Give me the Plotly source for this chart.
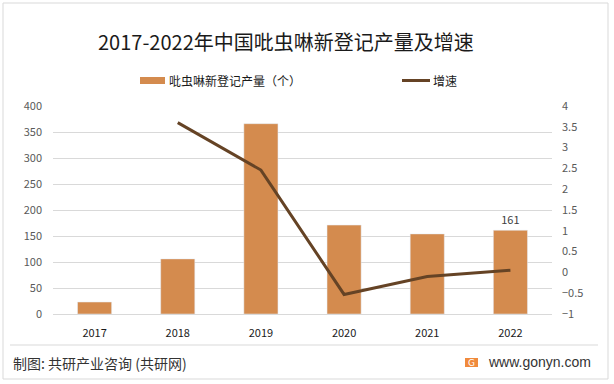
import plotly.graph_objects as go

years = ["2017", "2018", "2019", "2020", "2021", "2022"]
output = [23, 106, 366, 171, 154, 161]
growth_years = ["2018", "2019", "2020", "2021", "2022"]
growth = [3.6, 2.46, -0.53, -0.10, 0.05]
bar_labels = ["", "", "", "", "", "161"]
bar_name = "吡虫啉新登记产量（个）"
line_name = "增速"

FONT = "Noto Sans CJK SC, Microsoft YaHei, sans-serif"
BAR_C = "#d48b4e"
LINE_C = "#654325"

fig = go.Figure()
fig.add_trace(go.Bar(
    x=years, y=output, name=bar_name, marker_color=BAR_C,
    text=bar_labels, textposition="outside", cliponaxis=False,
    textfont=dict(size=11, color="#404040"),
))
fig.add_trace(go.Scatter(
    x=growth_years, y=growth, name=line_name, yaxis="y2", mode="lines",
    line=dict(color=LINE_C, width=3),
))

L, R, T, B = 53, 62, 106, 70
W, H = 614, 384
pw, ph = W - L - R, H - T - B

def px(x):
    return (x - L) / pw

def py(y):
    return (H - B - y) / ph

shapes = [
    dict(type="rect", xref="paper", yref="paper", x0=px(3), x1=px(608), y0=py(379), y1=py(3),
         line=dict(color="#d9d9d9", width=1), fillcolor="rgba(0,0,0,0)", layer="below"),
    dict(type="line", xref="paper", yref="paper", x0=px(10), x1=px(598), y0=py(345), y1=py(345),
         line=dict(color="#d9d9d9", width=1)),
    dict(type="rect", xref="paper", yref="paper", x0=px(465), x1=px(478), y0=py(367), y1=py(358),
         line=dict(width=0), fillcolor="#f08a3c"),
    # legend symbols
    dict(type="rect", xref="paper", yref="paper", x0=px(140), x1=px(165), y0=py(84), y1=py(77),
         line=dict(width=0), fillcolor=BAR_C),
    dict(type="line", xref="paper", yref="paper", x0=px(402), x1=px(430), y0=py(80.5), y1=py(80.5),
         line=dict(color=LINE_C, width=3)),
]

annotations = [
    dict(text="2017-2022年中国吡虫啉新登记产量及增速", xref="paper", yref="paper",
         x=px(286), y=py(41), showarrow=False, font=dict(size=20, color="#1a1a1a", family=FONT),
         xanchor="center", yanchor="middle"),
    dict(text=bar_name, xref="paper", yref="paper", x=px(167), y=py(80.5), showarrow=False,
         xanchor="left", yanchor="middle", font=dict(size=12, color="#1a1a1a", family=FONT)),
    dict(text=line_name, xref="paper", yref="paper", x=px(431), y=py(80.5), showarrow=False,
         xanchor="left", yanchor="middle", font=dict(size=12, color="#1a1a1a", family=FONT)),
    dict(text="制图: 共研产业咨询 (共研网)", xref="paper", yref="paper", x=px(11), y=py(363),
         showarrow=False, xanchor="left", yanchor="middle", font=dict(size=14, color="#333333", family=FONT)),
    dict(text="G", xref="paper", yref="paper", x=px(471.5), y=py(362.5), showarrow=False,
         xanchor="center", yanchor="middle", font=dict(size=9, color="white", family="DejaVu Sans")),
    dict(text="www.gonyn.com", xref="paper", yref="paper", x=px(486), y=py(362), showarrow=False,
         xanchor="left", yanchor="middle", font=dict(size=14, color="#333333", family="Liberation Sans, Arial")),
]

fig.update_layout(
    width=W, height=H, margin=dict(l=L, r=R, t=T, b=B, autoexpand=False),
    paper_bgcolor="white", plot_bgcolor="white",
    font=dict(family=FONT, size=11, color="#595959"),
    bargap=0.59, showlegend=False,
    xaxis=dict(showgrid=False, showline=True, linecolor="#d9d9d9", ticks="", automargin=False,
               ticklabelstandoff=9, tickfont=dict(size=11, color="#1a1a1a"), fixedrange=True),
    yaxis=dict(range=[0, 400], dtick=50, showgrid=True, gridcolor="#d9d9d9", zeroline=False,
               automargin=False, ticks="", ticklabelstandoff=10, tickfont=dict(size=11, color="#595959")),
    yaxis2=dict(range=[-1, 4], dtick=0.5, overlaying="y", side="right", showgrid=False,
                automargin=False, zeroline=False, ticks="", ticklabelstandoff=9,
                tickfont=dict(size=11, color="#595959")),
    shapes=shapes, annotations=annotations,
)

fig.write_html("out.html", config={"displayModeBar": False},
               post_script="document.body.style.margin='0';document.body.style.overflow='hidden';")
